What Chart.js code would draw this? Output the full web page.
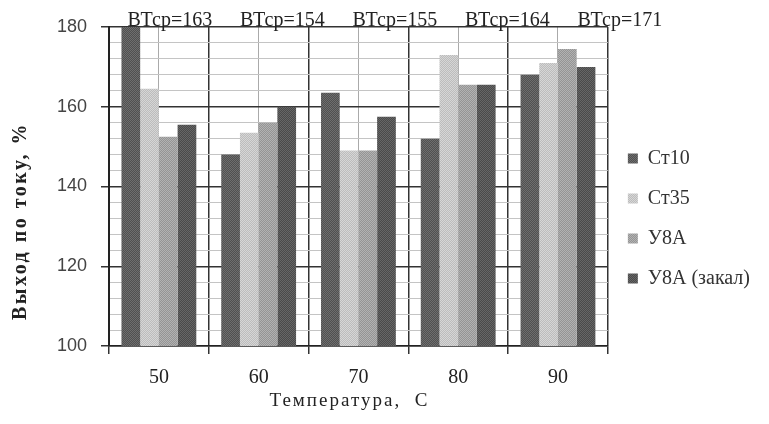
<!DOCTYPE html>
<html>
<head>
<meta charset="utf-8">
<script src="https://cdn.jsdelivr.net/npm/chart.js@4"></script>
<style>
  html, body { margin: 0; padding: 0; background: #fff; }
  #wrap { width: 769px; height: 424px; }
</style>
</head>
<body>
<div id="wrap"><canvas id="c" width="769" height="424"></canvas></div>
<script>
// ---- data ----
const categories = ['50', '60', '70', '80', '90'];
const seriesNames = ['Ст10', 'Ст35', 'У8А', 'У8А (закал)'];
const st10 = [180, 148, 163.5, 152, 168];
const st35 = [164.5, 153.5, 149, 173, 171];
const u8a = [152.5, 156, 149, 165.5, 174.5];
const u8aZakal = [155.5, 160, 157.5, 165.5, 170];
const avgValues = [163, 154, 155, 164, 171];
const avgPrefix = 'ВТср=';
const yMin = 100, yMax = 180, yMajorStep = 20, yMinorStep = 4;
const xTitle = 'Температура,  С';
const yTitle = 'Выход по току, %';

const SERIF = "'Liberation Serif', 'Times New Roman', serif";

// halftone-like checker pattern (two fixed shades) to mimic the printed texture
function halftone(c1, c2) {
  const p = document.createElement('canvas');
  p.width = 2; p.height = 2;
  const g = p.getContext('2d');
  g.fillStyle = c1; g.fillRect(0, 0, 2, 2);
  g.fillStyle = c2; g.fillRect(0, 0, 1, 1); g.fillRect(1, 1, 1, 1);
  return document.getElementById('c').getContext('2d').createPattern(p, 'repeat');
}
const colors = [
  halftone('#505050', '#6e6e6e'),
  halftone('#bcbcbc', '#d6d6d6'),
  halftone('#949494', '#b2b2b2'),
  halftone('#4a4a4a', '#666666')
];

const textPlugin = {
  id: 'texts',
  afterDraw(chart) {
    const ctx = chart.ctx;
    const a = chart.chartArea;
    ctx.save();
    ctx.fillStyle = '#222';
    // averages above groups
    ctx.font = '20px ' + SERIF;
    ctx.textAlign = 'center';
    ctx.textBaseline = 'alphabetic';
    const w = a.right - a.left;
    avgValues.forEach((v, i) => {
      const cx = a.left + w * (0.122 + 0.2255 * i);
      ctx.fillText(avgPrefix + v, cx, a.top - 1);
    });
    // x title
    ctx.font = '19px ' + SERIF;
    if ('letterSpacing' in ctx) ctx.letterSpacing = '2px';
    ctx.textBaseline = 'middle';
    ctx.fillText(xTitle, (a.left + a.right) / 2 - 9, 401);
    // y title
    ctx.font = 'bold 20px ' + SERIF;
    if ('letterSpacing' in ctx) ctx.letterSpacing = '2.5px';
    ctx.translate(21, 221);
    ctx.rotate(-Math.PI / 2);
    ctx.fillText(yTitle, 0, 0);
    ctx.restore();
  }
};

new Chart(document.getElementById('c'), {
  type: 'bar',
  data: {
    labels: categories,
    datasets: [
      { label: seriesNames[0], data: st10, backgroundColor: colors[0] },
      { label: seriesNames[1], data: st35, backgroundColor: colors[1] },
      { label: seriesNames[2], data: u8a, backgroundColor: colors[2] },
      { label: seriesNames[3], data: u8aZakal, backgroundColor: colors[3] }
    ]
  },
  options: {
    responsive: false,
    animation: false,
    devicePixelRatio: 1,
    layout: { padding: { top: 27, bottom: 14, left: 0, right: 9 } },
    datasets: { bar: { categoryPercentage: 0.75, barPercentage: 1.0, borderWidth: 0 } },
    plugins: {
      tooltip: { enabled: false },
      legend: {
        position: 'right',
        align: 'center',
        labels: {
          boxWidth: 10,
          boxHeight: 10,
          padding: 20,
          color: '#333',
          font: { family: SERIF, size: 20 }
        }
      }
    },
    scales: {
      x: {
        type: 'category',
        offset: true,
        grid: { offset: true, color: '#333', lineWidth: 1.5, tickLength: 8, tickColor: '#333' },
        border: { display: true, color: '#222', width: 1.5 },
        ticks: { color: '#222', padding: 12, font: { family: SERIF, size: 20 } },
        afterFit(s) { s.height = 64; }
      },
      x2: {
        type: 'category',
        position: 'bottom',
        offset: true,
        grid: { offset: false, color: '#aaa', lineWidth: 1, drawTicks: false },
        border: { display: false },
        ticks: { display: false },
        afterFit(s) { s.height = 0; }
      },
      y: {
        min: yMin,
        max: yMax,
        ticks: {
          stepSize: yMinorStep,
          autoSkip: false,
          padding: 14,
          color: '#444',
          font: { family: "'Liberation Sans', Arial, sans-serif", size: 18 },
          callback: (v) => (v % yMajorStep === 0 ? String(v) : '')
        },
        grid: {
          color: (c) => (c.tick && c.tick.value % yMajorStep === 0 ? '#333' : '#c4c4c4'),
          lineWidth: (c) => (c.tick && c.tick.value % yMajorStep === 0 ? 1.5 : 1),
          tickColor: (c) => (c.tick && c.tick.value % yMajorStep === 0 ? '#333' : 'rgba(0,0,0,0)'),
          tickLength: 8
        },
        border: { display: true, color: '#222', width: 2 },
        afterFit(s) { s.width = 109; }
      }
    }
  },
  plugins: [textPlugin]
});
</script>
</body>
</html>
